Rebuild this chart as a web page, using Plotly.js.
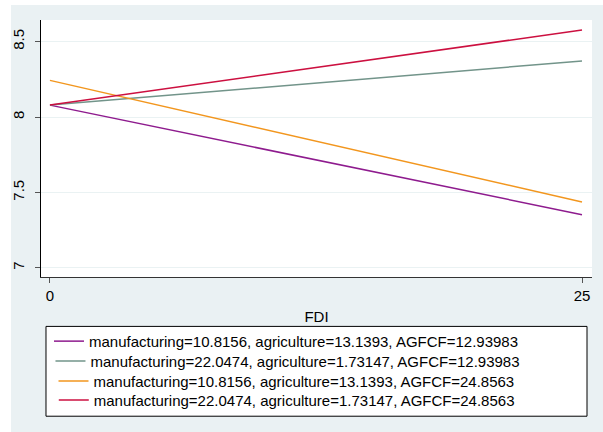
<!DOCTYPE html>
<html>
<head>
<meta charset="utf-8">
<script src="https://cdn.plot.ly/plotly-3.0.1.min.js"></script>
<style>
html,body{margin:0;padding:0;background:#ffffff;}
#chart{position:absolute;left:11px;top:5px;width:592px;height:427px;}
</style>
</head>
<body>
<div id="chart"></div>
<script>
// Data
var fdi = [0, 25];
var seriesNames = [
  "manufacturing=10.8156, agriculture=13.1393, AGFCF=12.93983",
  "manufacturing=22.0474, agriculture=1.73147, AGFCF=12.93983",
  "manufacturing=10.8156, agriculture=13.1393, AGFCF=24.8563",
  "manufacturing=22.0474, agriculture=1.73147, AGFCF=24.8563"
];
var s1 = [8.079, 7.353];
var s2 = [8.079, 8.372];
var s3 = [8.243, 7.437];
var s4 = [8.079, 8.577];
var yTicks = [7, 7.5, 8, 8.5];
var yTickText = ["7", "7.5", "8", "8.5"];
var xTicks = [0, 25];
var xTickText = ["0", "25"];

var colors = ["#8E1B8E", "#72948A", "#F2961E", "#CC1040"];
var allY = [s1, s2, s3, s4];
var legendIds = ["legend", "legend2", "legend3", "legend4"];

var traces = allY.map(function(y, i) {
  return {
    x: fdi, y: y, type: "scatter", mode: "lines",
    name: seriesNames[i],
    legend: legendIds[i],
    line: {color: colors[i], width: 1.5}
  };
});

// legend placement (paper coords)
var legX = [0.0145, 0.0172, 0.0227, 0.0232];
var legY = [-0.2505, -0.3282, -0.4058, -0.4796];

var layout = {
  width: 592, height: 427,
  paper_bgcolor: "#EAF1F3",
  plot_bgcolor: "#FFFFFF",
  margin: {l: 30, r: 11, t: 15, b: 154.5},
  font: {family: "Liberation Sans, Arial, sans-serif", size: 15, color: "#000000"},
  showlegend: true,
  xaxis: {
    range: [-0.42, 25.47],
    tickvals: xTicks, ticktext: xTickText,
    showgrid: false, zeroline: false,
    showline: true, linecolor: "#333333", linewidth: 1,
    ticks: "outside", ticklen: 5, tickcolor: "#555555",
    ticklabelstandoff: 0,
    title: {text: "FDI", standoff: 8, font: {size: 15}}
  },
  yaxis: {
    range: [6.94, 8.643],
    tickvals: yTicks, ticktext: yTickText,
    tickangle: -90,
    ticklabelstandoff: 5,
    showgrid: true, gridcolor: "#EAF2F3", gridwidth: 1,
    zeroline: false,
    showline: true, linecolor: "#000000", linewidth: 1,
    ticks: "outside", ticklen: 5, tickcolor: "#555555"
  },
  shapes: [{
    type: "rect", xref: "paper", yref: "paper",
    x0: 0.00907, x1: 0.99093, y0: -0.5417, y1: -0.1922,
    line: {color: "#000000", width: 1},
    fillcolor: "#FFFFFF", layer: "below"
  }]
};

legendIds.forEach(function(id, i) {
  layout[id] = {
    x: legX[i], xanchor: "left",
    y: legY[i], yanchor: "middle",
    bgcolor: "rgba(0,0,0,0)",
    borderwidth: 0,
    font: {size: 15, color: "#000000"}
  };
});

Plotly.newPlot("chart", traces, layout, {displayModeBar: false, staticPlot: true});
</script>
</body>
</html>
